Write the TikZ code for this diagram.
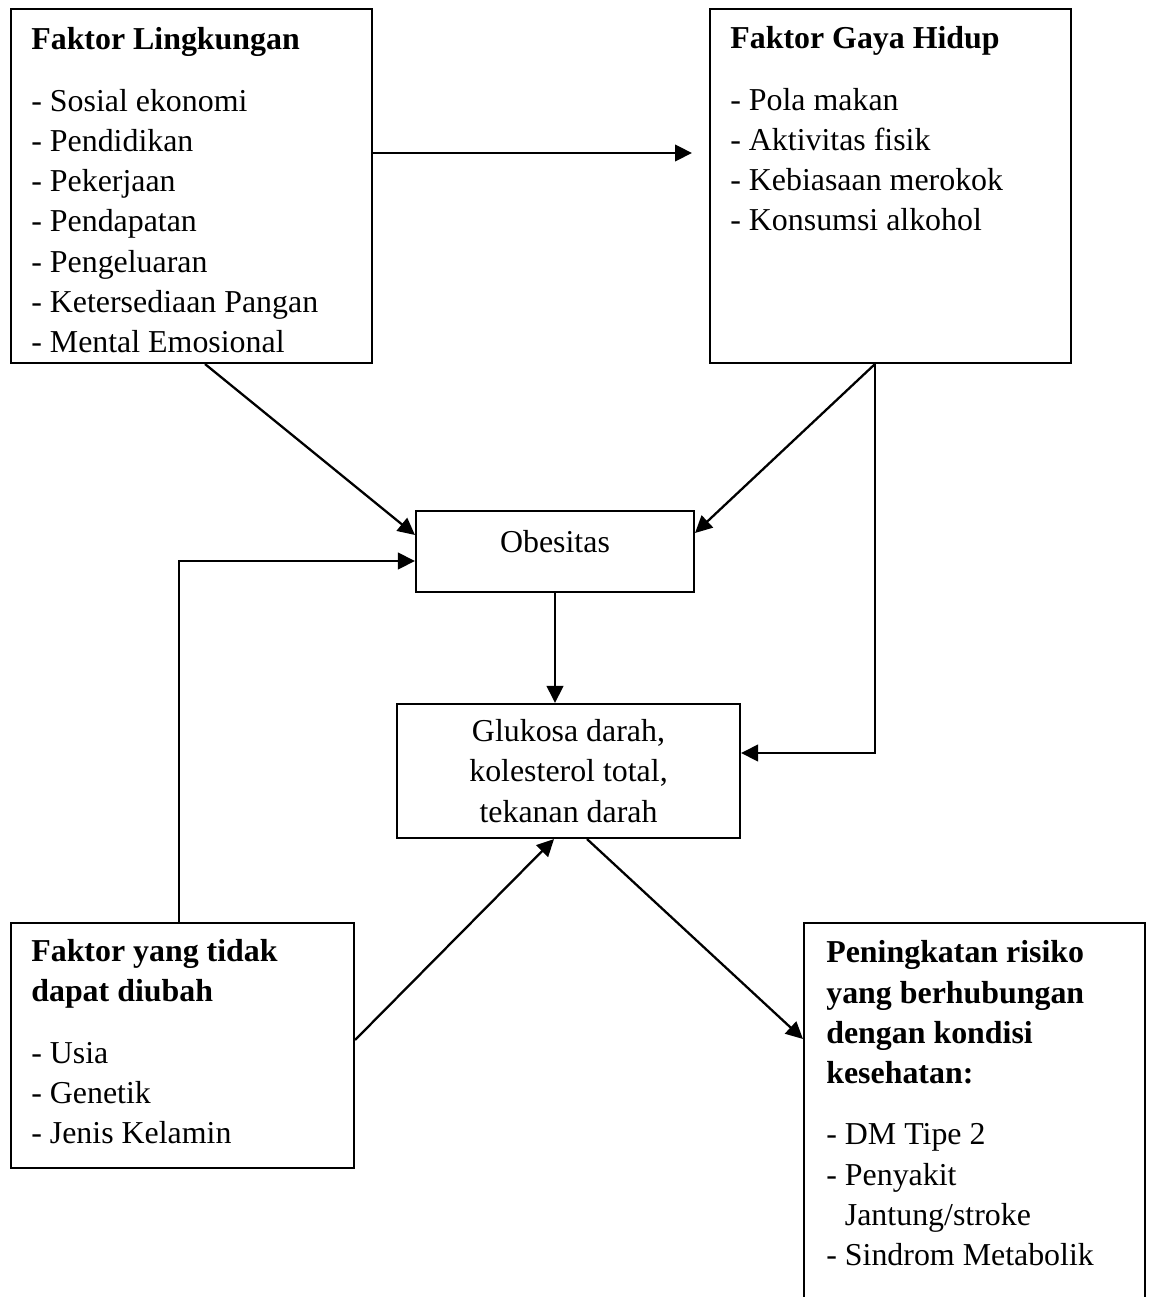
\documentclass[tikz,border=0pt]{standalone}
\usepackage{fontspec}
\setmainfont{Liberation Serif}
\usetikzlibrary{calc,positioning,arrows.meta}
\tikzset{
  frame/.style={rectangle,draw=black,line width=1.2pt,inner sep=0pt},
  body/.style={font=\fontsize{18.15}{22.9}\selectfont},
  txt/.style={body,anchor=north west,align=left,inner sep=0pt},
  arr/.style={-{Triangle[length=3.4mm,width=3.3mm]},line width=1.3pt},
}

\begin{document}
\begin{tikzpicture}[x=0.02cm,y=-0.02cm]
  \useasboundingbox (0,0) rectangle (1152,1297);
  % boxes
  \node[frame,minimum width=7.22cm,minimum height=7.08cm] (lingk) at (191.5,186) {};
  \node[frame,minimum width=7.22cm,minimum height=7.08cm] (gaya) at (890.5,186) {};
  \node[frame,body,minimum width=5.56cm,text height=0.82cm,text depth=0.8cm] (obes) at (555,551.5) {Obesitas};
  \node[frame,body,align=center,minimum width=6.86cm,minimum height=2.68cm] (gluk) at (568.5,771)
    {Glukosa darah,\\ kolesterol total,\\ tekanan darah};
  \node[frame,minimum width=6.86cm,minimum height=4.9cm] (tetap) at (182.5,1045.5) {};
  \node[frame,minimum width=6.82cm,minimum height=8.34cm] (risiko) at (974.5,1131.5) {};
  % box texts
  \node[txt] (lingkT) at ([shift={(21,19.3)}]lingk.north west)
    {\textbf{Faktor Lingkungan}\\[12pt]
     - Sosial ekonomi\\ - Pendidikan\\ - Pekerjaan\\ - Pendapatan\\
     - Pengeluaran\\ - Ketersediaan Pangan\\ - Mental Emosional};
  \node[txt] (gayaT) at ([shift={(21,18.3)}]gaya.north west)
    {\textbf{Faktor Gaya Hidup}\\[12pt]
     - Pola makan\\ - Aktivitas fisik\\ - Kebiasaan merokok\\ - Konsumsi alkohol};
  \node[txt] (tetapT) at ([shift={(21,17.3)}]tetap.north west)
    {\textbf{Faktor yang tidak}\\ \textbf{dapat diubah}\\[12pt]
     - Usia\\ - Genetik\\ - Jenis Kelamin};
  \node[txt] (risikoT) at ([shift={(23,18.3)}]risiko.north west)
    {\textbf{Peningkatan risiko}\\ \textbf{yang berhubungan}\\ \textbf{dengan kondisi}\\ \textbf{kesehatan:}\\[12pt]
     - DM Tipe 2\\ - Penyakit\\ \phantom{- }Jantung/stroke\\ - Sindrom Metabolik};
  % connectors
  \draw[arr,shorten >=0.34cm] ([shift={(0,-33)}]lingk.east) -- ([shift={(0,-33)}]gaya.west);
  \draw[arr] ([shift={(13.5,0)}]lingk.south) -- ([shift={(0,-16.5)}]obes.west);
  \draw[arr] ([shift={(-15.5,0)}]gaya.south) -- ([shift={(0,-18.5)}]obes.east);
  \draw[arr] ([shift={(-15.5,0)}]gaya.south) |- ([shift={(0,-18)}]gluk.east);
  \draw[arr] (obes.south) -- (obes.south |- gluk.north);
  \draw[arr] ([shift={(-3.5,0)}]tetap.north) |- ([shift={(0,9.5)}]obes.west);
  \draw[arr] ([shift={(0,-5.5)}]tetap.east) -- ([shift={(-14.5,0)}]gluk.south);
  \draw[arr] ([shift={(18.5,0)}]gluk.south) -- ([shift={(0,117)}]risiko.north west);
\end{tikzpicture}
\end{document}
